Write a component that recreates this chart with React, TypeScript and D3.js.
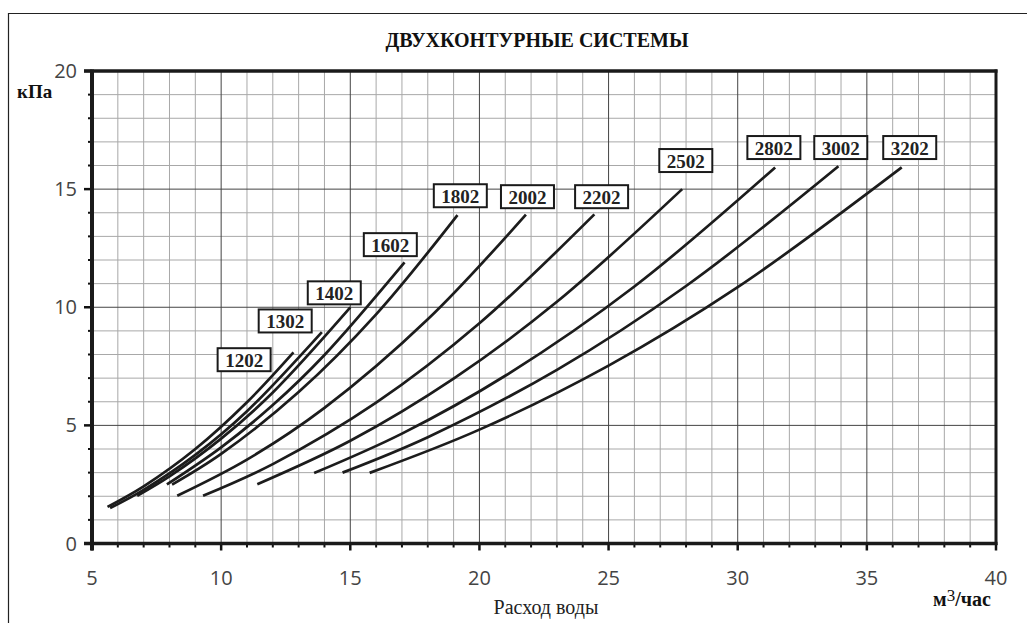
import React from 'react';
import * as d3 from 'd3';

const title = 'ДВУХКОНТУРНЫЕ СИСТЕМЫ';
const xAxisTitle = 'Расход воды';
const yUnit = 'кПа';
const xTicks = [5, 10, 15, 20, 25, 30, 35, 40];
const yTicks = [0, 5, 10, 15, 20];

const seriesNames = ['1202', '1302', '1402', '1602', '1802', '2002', '2202', '2502', '2802', '3002', '3202'];

const s1202: [number, number][] = [[5.6, 1.55], [7, 2.42], [9, 4.0], [11, 5.98], [12.8, 8.09]];
const s1302: [number, number][] = [[5.7, 1.5], [7, 2.27], [9, 3.75], [11, 5.6], [13.9, 8.95]];
const s1402: [number, number][] = [[6.75, 2.02], [8, 2.84], [10, 4.44], [12, 6.39], [15, 9.99]];
const s1602: [number, number][] = [[7.9, 2.5], [10, 4.07], [12, 5.86], [14, 7.98], [17.1, 11.9]];
const s1802: [number, number][] = [[8.1, 2.49], [10, 3.79], [13, 6.41], [16, 9.7], [19.15, 13.9]];
const s2002: [number, number][] = [[8.3, 2.02], [11, 3.55], [14, 5.74], [18, 9.49], [21.8, 13.92]];
const s2202: [number, number][] = [[9.3, 2.02], [12, 3.36], [16, 5.96], [20, 9.32], [24.45, 13.93]];
const s2502: [number, number][] = [[11.4, 2.51], [15, 4.35], [19, 6.98], [23, 10.23], [27.85, 15.0]];
const s2802: [number, number][] = [[13.6, 2.98], [17, 4.65], [21, 7.1], [26, 10.88], [31.45, 15.92]];
const s3002: [number, number][] = [[14.7, 3.0], [18, 4.5], [23, 7.35], [28, 10.9], [33.9, 15.97]];
const s3202: [number, number][] = [[15.75, 2.99], [20, 4.82], [25, 7.53], [30, 10.85], [36.35, 15.92]];

const seriesData = [s1202, s1302, s1402, s1602, s1802, s2002, s2202, s2502, s2802, s3002, s3202];

// label anchor (centre of box) in data units
const labelQ = [10.89, 12.48, 14.38, 16.55, 19.26, 21.86, 24.73, 27.99, 31.4, 33.99, 36.66];
const labelP = [7.78, 9.42, 10.61, 12.65, 14.72, 14.68, 14.68, 16.21, 16.76, 16.76, 16.76];

export default function App() {
  const W = 1027, H = 623;
  const left = 92, right = 996, top = 71, bottom = 543.5;
  const x = d3.scaleLinear().domain([5, 40]).range([left, right]);
  const y = d3.scaleLinear().domain([0, 20]).range([bottom, top]);
  const line = d3.line<[number, number]>()
    .x(d => x(d[0]))
    .y(d => y(d[1]))
    .curve(d3.curveCatmullRom.alpha(0.5));

  const xMinor = d3.range(5, 41, 1);
  const yMinor = d3.range(0, 21, 1);
  const serif = '"Liberation Serif", "Times New Roman", serif';
  const sans = '"Open Sans", "DejaVu Sans", sans-serif';

  return (
    <svg width={W} height={H} style={{ position: 'absolute', left: 0, top: 0, background: '#fff' }}
      xmlns="http://www.w3.org/2000/svg">
      <rect x={0} y={0} width={W} height={H} fill="#fff" />
      {/* outer frame */}
      <line x1={8} y1={13.5} x2={W} y2={13.5} stroke="#222" strokeWidth={1.2} />
      <line x1={8.5} y1={13} x2={8.5} y2={H} stroke="#222" strokeWidth={1.2} />

      <text x={537} y={47} textAnchor="middle" fontFamily={serif} fontWeight="bold" fontSize={20} fill="#111">{title}</text>

      {/* minor grid */}
      {xMinor.filter(v => v % 5 !== 0).map(v => (
        <line key={'gx' + v} x1={x(v)} x2={x(v)} y1={top} y2={bottom} stroke="#a8a8a8" strokeWidth={1} />
      ))}
      {yMinor.filter(v => v % 5 !== 0).map(v => (
        <line key={'gy' + v} x1={left} x2={right} y1={y(v)} y2={y(v)} stroke="#a8a8a8" strokeWidth={1} />
      ))}
      {/* major grid */}
      {xTicks.filter(v => v !== 5 && v !== 40).map(v => (
        <line key={'Gx' + v} x1={x(v)} x2={x(v)} y1={top} y2={bottom} stroke="#444" strokeWidth={1} />
      ))}
      {yTicks.filter(v => v !== 0 && v !== 20).map(v => (
        <line key={'Gy' + v} x1={left} x2={right} y1={y(v)} y2={y(v)} stroke="#444" strokeWidth={1} />
      ))}

      {/* ticks */}
      {yMinor.map(v => (
        <line key={'ty' + v} x1={left - (v % 5 === 0 ? 8 : 4)} x2={left} y1={y(v)} y2={y(v)} stroke="#111" strokeWidth={v % 5 === 0 ? 2.5 : 2} />
      ))}
      {xMinor.map(v => (
        <line key={'tx' + v} x1={x(v)} x2={x(v)} y1={bottom} y2={bottom + (v % 5 === 0 ? 7 : 4)} stroke="#111" strokeWidth={v % 5 === 0 ? 2.5 : 2} />
      ))}

      {/* frame of plot */}
      <line x1={left - 8} x2={right + 1.5} y1={top} y2={top} stroke="#1a1a1a" strokeWidth={3.5} />
      <line x1={left - 8} x2={right + 1.5} y1={bottom} y2={bottom} stroke="#1a1a1a" strokeWidth={3.5} />
      <line x1={left} x2={left} y1={top - 1.5} y2={bottom + 7} stroke="#1a1a1a" strokeWidth={4} />
      <line x1={right} x2={right} y1={top - 1.5} y2={bottom + 1.5} stroke="#1a1a1a" strokeWidth={3} />

      {/* tick labels */}
      {yTicks.map(v => (
        <text key={'ly' + v} x={left - 15} y={y(v) + 7} textAnchor="end" fontFamily={sans} fontSize={20} fill="#444">{v}</text>
      ))}
      {xTicks.map(v => (
        <text key={'lx' + v} x={x(v)} y={585} textAnchor="middle" fontFamily={sans} fontSize={20} fill="#444">{v}</text>
      ))}

      <text x={17} y={98} fontFamily={serif} fontWeight="bold" fontSize={19} fill="#111">{yUnit}</text>
      <text x={546} y={614} textAnchor="middle" fontFamily={serif} fontSize={20} fill="#222">{xAxisTitle}</text>
      <text x={933} y={606} fontFamily={serif} fontWeight="bold" fontSize={20} fill="#111">
        м<tspan dy={-5} fontWeight="normal" fontSize={17}>3</tspan><tspan dy={5}>/час</tspan>
      </text>

      {/* curves */}
      {seriesData.map((d, i) => (
        <path key={'c' + i} d={line(d) || ''} fill="none" stroke="#1c1c1c" strokeWidth={2.7} strokeLinecap="butt" />
      ))}

      {/* labels */}
      {seriesNames.map((n, i) => {
        const cx = x(labelQ[i]);
        const cy = y(labelP[i]);
        return (
          <g key={'lb' + n}>
            <rect x={cx - 26.5} y={cy - 11.5} width={53} height={23} fill="#fff" stroke="#1a1a1a" strokeWidth={2} />
            <text x={cx} y={cy + 7} textAnchor="middle" fontFamily={serif} fontWeight="bold" fontSize={19} fill="#222">{n}</text>
          </g>
        );
      })}
    </svg>
  );
}
